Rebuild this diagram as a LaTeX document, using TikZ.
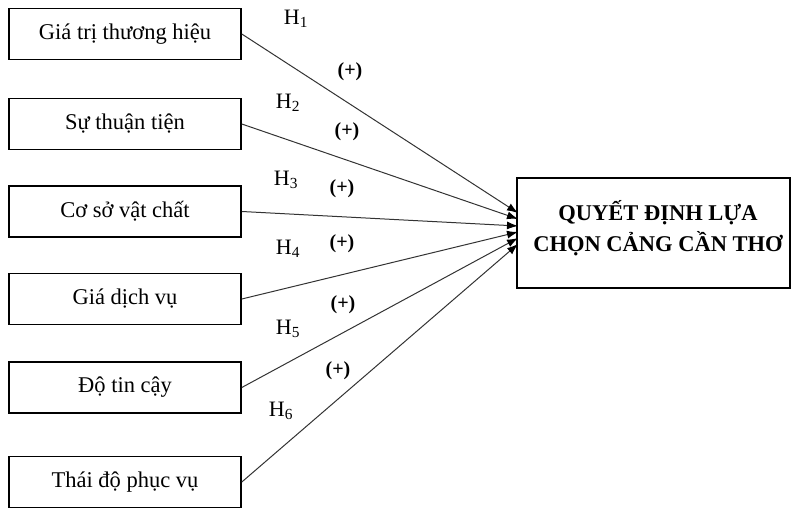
\documentclass[tikz,border=0pt]{standalone}
\usepackage{fontspec}
\setmainfont{Liberation Serif}
\usetikzlibrary{arrows.meta}
\begin{document}
\begin{tikzpicture}[x=1pt,y=-1pt,
  leftbox/.style={draw,line width=1.6pt,minimum width=232pt,minimum height=51pt,inner sep=0pt,font=\fontsize{22.5}{26}\selectfont},
  rightbox/.style={draw,line width=1.6pt,minimum width=273pt,minimum height=110pt,inner sep=0pt},
  conn/.style={draw=black!80,line width=1pt,-{Latex[length=11pt,width=8pt,black]},shorten >=0pt},
  hlab/.style={font=\fontsize{22}{26}\selectfont,inner sep=0pt},
  plab/.style={font=\fontsize{20}{24}\selectfont\bfseries,inner sep=0pt}]
\useasboundingbox (0,0) rectangle (794,508);
\node[leftbox] (b1) at (125,34) {Giá trị thương hiệu};
\node[leftbox] (b2) at (125,124) {Sự thuận tiện};
\node[leftbox] (b3) at (125,211.5) {Cơ sở vật chất};
\node[leftbox] (b4) at (125,299) {Giá dịch vụ};
\node[leftbox] (b5) at (125,387.5) {Độ tin cậy};
\node[leftbox] (b6) at (125,482) {Thái độ phục vụ};
\node[rightbox] (t) at (653.5,233) {};
\node[align=center,font=\fontsize{22.5}{31}\selectfont\bfseries,inner sep=0pt] (tt) at (658,228) {QUYẾT ĐỊNH LỰA\\CHỌN CẢNG CẦN THƠ};
\coordinate (e1) at (518,213);
\coordinate (e2) at (518,219);
\coordinate (e3) at (518,226);
\coordinate (e4) at (518,232);
\coordinate (e5) at (518,238);
\coordinate (e6) at (518,244);
\draw[conn] (b1.east) -- (e1);
\draw[conn] (b2.east) -- (e2);
\draw[conn] (b3.east) -- (e3);
\draw[conn] (b4.east) -- (e4);
\draw[conn] (b5.east) -- (e5);
\draw[conn] (b6.east) -- (e6);
\node[hlab] (h1) at (296,19) {H\textsubscript{1}};
\node[hlab] (h2) at (288,103) {H\textsubscript{2}};
\node[hlab] (h3) at (286,180) {H\textsubscript{3}};
\node[hlab] (h4) at (288,249) {H\textsubscript{4}};
\node[hlab] (h5) at (288,329) {H\textsubscript{5}};
\node[hlab] (h6) at (281,411) {H\textsubscript{6}};
\node[plab] (p1) at (350,72) {(+)};
\node[plab] (p2) at (347,132) {(+)};
\node[plab] (p3) at (342,189) {(+)};
\node[plab] (p4) at (342,244) {(+)};
\node[plab] (p5) at (343,305) {(+)};
\node[plab] (p6) at (338,371) {(+)};
\end{tikzpicture}
\end{document}
